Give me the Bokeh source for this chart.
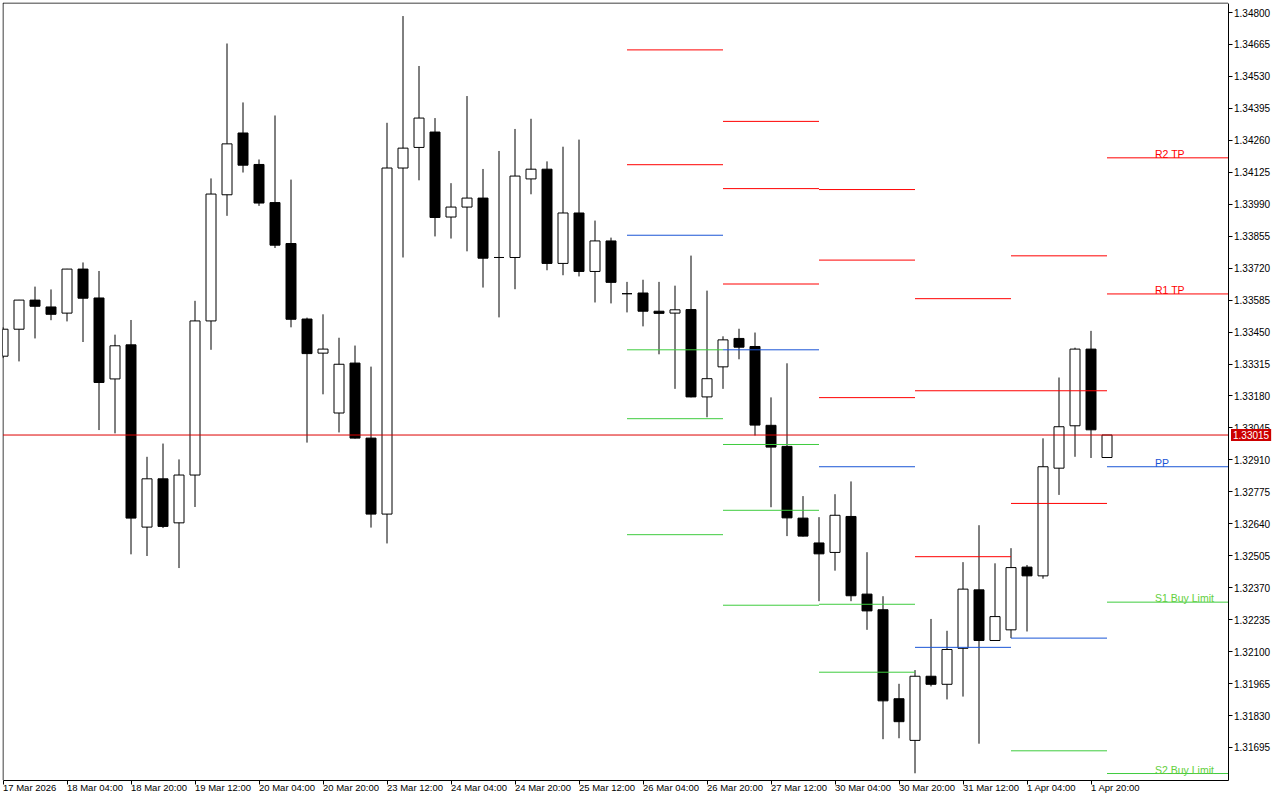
from bokeh.plotting import figure
from bokeh.models import Range1d, FixedTicker, PrintfTickFormatter, Label, ColumnDataSource
from bokeh.core.properties import value
from bokeh.embed import file_html
from bokeh.resources import INLINE

# ---------------- data (4H candles, 17 Mar 12:00 .. 2 Apr 00:00) ----------------
opens = [1.33348, 1.33462, 1.33585, 1.33556, 1.33530, 1.33716, 1.33594, 1.33252, 1.33396, 1.32626,
         1.32830, 1.32644, 1.32846, 1.33497, 1.34030, 1.34291, 1.34158, 1.33997, 1.33824, 1.33505,
         1.33361, 1.33108, 1.33319, 1.33002, 1.32681, 1.34143, 1.34230, 1.34295, 1.33936, 1.33978,
         1.34016, 1.33765, 1.33765, 1.34097, 1.34138, 1.33740, 1.33953, 1.33706, 1.33835, 1.33612,
         1.33615, 1.33538, 1.33530, 1.33545, 1.33176, 1.33303, 1.33423, 1.33389, 1.33056, 1.32967,
         1.32664, 1.32559, 1.32519, 1.32671, 1.32343, 1.32277, 1.31901, 1.31725, 1.31996, 1.31962,
         1.32114, 1.32361, 1.32147, 1.32192, 1.32457, 1.32420, 1.32875, 1.33054, 1.33378, 1.32920]
highs = [1.33470, 1.33586, 1.33642, 1.33630, 1.33717, 1.33744, 1.33708, 1.33439, 1.33501, 1.32923,
         1.32979, 1.32912, 1.33582, 1.34099, 1.34669, 1.34420, 1.34179, 1.34365, 1.34094, 1.33511,
         1.33525, 1.33426, 1.33393, 1.33304, 1.34334, 1.34785, 1.34574, 1.34354, 1.34079, 1.34447,
         1.34139, 1.34215, 1.34308, 1.34351, 1.34171, 1.34233, 1.34263, 1.33921, 1.33849, 1.33662,
         1.33671, 1.33662, 1.33646, 1.33773, 1.33625, 1.33432, 1.33464, 1.33448, 1.33174, 1.33318,
         1.32757, 1.32668, 1.32765, 1.32819, 1.32520, 1.32334, 1.31964, 1.32022, 1.32238, 1.32188,
         1.32478, 1.32634, 1.32473, 1.32537, 1.32466, 1.33001, 1.33258, 1.33384, 1.33455, 1.33015]
lows = [1.33340, 1.33326, 1.33423, 1.33500, 1.33495, 1.33408, 1.33036, 1.33022, 1.32511, 1.32504,
        1.32622, 1.32453, 1.32711, 1.33375, 1.33941, 1.34124, 1.33983, 1.33805, 1.33470, 1.32983,
        1.33187, 1.33026, 1.33000, 1.32624, 1.32557, 1.33765, 1.34091, 1.33854, 1.33845, 1.33791,
        1.33638, 1.33512, 1.33631, 1.34032, 1.33711, 1.33690, 1.33685, 1.33575, 1.33571, 1.33533,
        1.33474, 1.33356, 1.33210, 1.33174, 1.33090, 1.33210, 1.33335, 1.33013, 1.32710, 1.32588,
        1.32586, 1.32313, 1.32442, 1.32313, 1.32192, 1.31730, 1.31734, 1.31586, 1.31953, 1.31898,
        1.31910, 1.31711, 1.32145, 1.32157, 1.32185, 1.32408, 1.32762, 1.32923, 1.32918, 1.32920]
closes = [1.33462, 1.33585, 1.33559, 1.33525, 1.33716, 1.33593, 1.33237, 1.33392, 1.32664, 1.32830,
          1.32629, 1.32846, 1.33497, 1.34033, 1.34245, 1.34155, 1.33995, 1.33817, 1.33504, 1.33359,
          1.33378, 1.33314, 1.33002, 1.32681, 1.34143, 1.34227, 1.34354, 1.33934, 1.33978, 1.34016,
          1.33762, 1.33765, 1.34109, 1.34138, 1.33740, 1.33953, 1.33706, 1.33835, 1.33660, 1.33612,
          1.33538, 1.33529, 1.33544, 1.33176, 1.33253, 1.33417, 1.33386, 1.33057, 1.32964, 1.32665,
          1.32588, 1.32513, 1.32676, 1.32336, 1.32272, 1.31892, 1.31804, 1.31996, 1.31962, 1.32109,
          1.32364, 1.32147, 1.32248, 1.32455, 1.32420, 1.32881, 1.33050, 1.33378, 1.33037, 1.33015]

x_tick_bars = [0, 4, 8, 12, 16, 20, 24, 28, 32, 36, 40, 44, 48, 52, 56, 60, 64, 68]
x_tick_labels = ["17 Mar 2026", "18 Mar 04:00", "18 Mar 20:00", "19 Mar 12:00", "20 Mar 04:00",
                 "20 Mar 20:00", "23 Mar 12:00", "24 Mar 04:00", "24 Mar 20:00", "25 Mar 12:00",
                 "26 Mar 04:00", "26 Mar 20:00", "27 Mar 12:00", "30 Mar 04:00", "30 Mar 20:00",
                 "31 Mar 12:00", "1 Apr 04:00", "1 Apr 20:00"]

y_ticks = [1.34800, 1.34665, 1.34530, 1.34395, 1.34260, 1.34125, 1.33990, 1.33855, 1.33720,
           1.33585, 1.33450, 1.33315, 1.33180, 1.33045, 1.32910, 1.32775, 1.32640, 1.32505,
           1.32370, 1.32235, 1.32100, 1.31965, 1.31830, 1.31695]

# daily pivot levels (day start bar: 26 Mar, 27 Mar, 30 Mar, 31 Mar, 1 Apr, 2 Apr)
day_start = [39, 45, 51, 57, 63, 69]
r3 = [None, 1.34340, 1.34052, 1.33591, 1.33772, None]
r2 = [1.34642, 1.34056, 1.33754, 1.33202, 1.33202, 1.34186]
r1 = [1.34157, 1.33653, 1.33173, 1.32501, 1.32726, 1.33611]
pp = [1.33859, 1.33375, 1.32881, 1.32118, 1.32157, 1.32881]
s1 = [1.33375, 1.32975, 1.32300, None, 1.31681, 1.32309]
s2 = [1.33084, 1.32697, 1.32013, None, None, 1.31585]
s3 = [1.32594, 1.32296, None, None, None, None]

level_names = ["R2 TP", "R1 TP", "PP", "S1 Buy Limit", "S2 Buy Limit"]
current_price = closes[-1]

# ---------------- styling / layout ----------------
FONT = "Liberation Sans"
RED = "#ff0000"
BLUE = "#1a55d6"
GREEN = "#3fcc3f"
TEXT_GREEN = "#62cf3c"
W, H = 1280, 800
LEFT, TOP = 2, 2                 # frame starts 2px in; it runs to the right / bottom canvas edge
PX_PER_BAR = 16
PX_PER_UNIT = 23671.0            # vertical pixels per price unit
AXIS_X_PX = 1227.5               # price axis line (page px)
AXIS_Y_PX = 779.5                # time axis line (page px)
PRICE_REF_PX, PRICE_REF = 12.0, 1.34800

x_start = -0.5 / PX_PER_BAR
x_end = x_start + (W - LEFT) / PX_PER_BAR
y_hi = PRICE_REF + (PRICE_REF_PX - TOP) / PX_PER_UNIT
y_lo = y_hi - (H - TOP) / PX_PER_UNIT
vis_left = x_start + 0.5 / PX_PER_BAR
vis_right = x_start + (AXIS_X_PX - LEFT) / PX_PER_BAR
vis_top = y_hi - 0.5 / PX_PER_UNIT
vis_bottom = y_hi - (AXIS_Y_PX - TOP) / PX_PER_UNIT
px_y = 1.0 / PX_PER_UNIT
LABEL_BAR = 72

p = figure(width=W, height=H, x_range=Range1d(x_start, x_end), y_range=Range1d(y_lo, y_hi),
           output_backend="svg", toolbar_location=None, y_axis_location="right",
           min_border_left=LEFT, min_border_top=TOP, min_border_right=0, min_border_bottom=0,
           background_fill_color="white", border_fill_color="white")
p.grid.visible = False
p.outline_line_color = None

# left / top border of the chart box (right / bottom are the axes)
p.segment(x0=[vis_left, vis_left], y0=[vis_bottom, vis_top], x1=[vis_left, vis_right],
          y1=[vis_top, vis_top], line_color="black", line_width=1)

# candles
bars = list(range(len(opens)))
src = ColumnDataSource(dict(
    x=bars, h=highs, l=lows,
    top=[max(o, c) for o, c in zip(opens, closes)],
    bottom=[min(o, c) for o, c in zip(opens, closes)],
    fill=["white" if c > o else "black" for o, c in zip(opens, closes)],
))
p.segment(x0="x", y0="l", x1="x", y1="h", source=src, line_color="black", line_width=1)
p.vbar(x="x", width=0.625, top="top", bottom="bottom", fill_color="fill",
       line_color="black", line_width=1, source=src)

# pivot level segments
day_end = day_start[1:] + [vis_right]
seg = dict(x0=[], x1=[], y=[], color=[])
for vals, col in [(r3, RED), (r2, RED), (r1, RED), (pp, BLUE), (s1, GREEN), (s2, GREEN), (s3, GREEN)]:
    for s, e, v in zip(day_start, day_end, vals):
        if v is not None:
            seg["x0"].append(s)
            seg["x1"].append(e)
            seg["y"].append(v)
            seg["color"].append(col)
p.segment(x0="x0", y0="y", x1="x1", y1="y", line_color="color", line_width=1,
          source=ColumnDataSource(seg))

# current-day level names, sitting 4px above their line
label_levels = [r2[-1], r1[-1], pp[-1], s1[-1], s2[-1]]
label_colors = [RED, RED, BLUE, TEXT_GREEN, TEXT_GREEN]
p.text(x=[LABEL_BAR] * len(level_names), y=[v + 4 * px_y for v in label_levels], text=level_names,
       text_color=label_colors, text_font=value(FONT), text_font_size="10.5px",
       text_baseline="alphabetic", text_align="left")

# current price line
p.segment(x0=[vis_left], y0=[current_price], x1=[vis_right], y1=[current_price],
          line_color="#dd0000", line_width=1)

# axes, pinned to the chart box
xa = p.xaxis[0]
xa.fixed_location = vis_bottom
xa.bounds = (vis_left, vis_right)
xa.ticker = FixedTicker(ticks=x_tick_bars)
xa.major_label_overrides = dict(zip(x_tick_bars, x_tick_labels))
xa.major_label_orientation = -0.0001
xa.major_tick_out = 4
xa.major_tick_in = 0
xa.minor_tick_line_color = None
xa.major_label_standoff = 3
xa.axis_line_color = "black"
xa.major_tick_line_color = "black"
xa.major_label_text_font = FONT
xa.major_label_text_font_size = "9.5px"
xa.major_label_text_color = "black"

ya = p.yaxis[0]
ya.fixed_location = vis_right
ya.bounds = (vis_bottom, vis_top)
ya.ticker = FixedTicker(ticks=y_ticks)
ya.formatter = PrintfTickFormatter(format="%.5f")
ya.major_tick_out = 4
ya.major_tick_in = 0
ya.minor_tick_line_color = None
ya.major_label_standoff = 2
ya.axis_line_color = "black"
ya.major_tick_line_color = "black"
ya.major_label_text_font = FONT
ya.major_label_text_font_size = "10px"
ya.major_label_text_color = "black"

# current price tag on the price axis
p.add_layout(Label(x=vis_right, y=current_price, x_offset=3, level="overlay",
                   text=f"{current_price:.5f}", text_align="left", text_baseline="middle",
                   text_font=FONT, text_font_size="10px", text_color="white", padding=2,
                   background_fill_color="#cc0000", background_fill_alpha=1))

open("out.html", "w").write(file_html(p, INLINE))
